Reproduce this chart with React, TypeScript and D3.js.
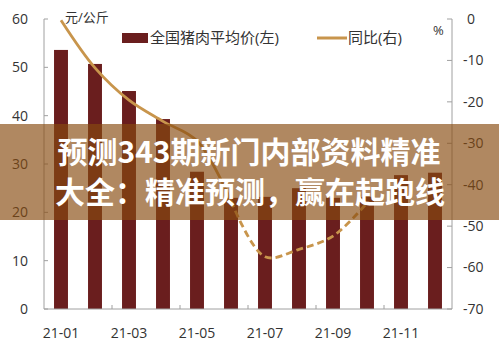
import React from "react";
import * as d3 from "d3";

const months = ["21-01","21-02","21-03","21-04","21-05","21-06","21-07","21-08","21-09","21-10","21-11","21-12"];
const priceValues = [53.6, 50.7, 45.1, 39.3, 28.4, 23.0, 23.2, 25.0, 23.0, 23.2, 27.7, 28.2];
const yoyMonths = ["21-01","21-02","21-03","21-04","21-05","21-06","21-07","21-08","21-09","21-10"];
const yoyValues = [-0.3, -11.8, -19.6, -24.7, -29.4, -43.9, -57.4, -55.6, -52.4, -44.4];
const leftTicks = [0, 10, 20, 30, 40, 50, 60];
const rightTicks = [0, -10, -20, -30, -40, -50, -60, -70];
const xLabelMonths = ["21-01","21-03","21-05","21-07","21-09","21-11"];
const legendBar = "全国猪肉平均价(左)";
const legendLine = "同比(右)";
const leftUnit = "元/公斤";
const rightUnit = "%";
const bannerLine1 = "预测343期新门内部资料精准";
const bannerLine2 = "大全：精准预测，赢在起跑线";

const W = 499, H = 344;
const L = 44, R = 452, T = 19, B = 309;
const FONT = "'Open Sans', 'Noto Sans CJK SC', sans-serif";
const BAR = "#6a1e1e";
const LINE = "#c8954c";
const AXIS = "#a0a0a0";
const TXT = "#333";

export default function App() {
  const x = d3.scaleBand<string>().domain(months).range([L, R]).paddingInner(0.59).paddingOuter(0.295);
  const band = (R - L) / months.length;
  const yL = d3.scaleLinear().domain([0, 60]).range([B, T]);
  const yR = d3.scaleLinear().domain([-70, 0]).range([B, T]);
  const cx = (m: string) => (x(m) as number) + x.bandwidth() / 2;

  const pts: [number, number][] = yoyMonths.map((m, i) => [cx(m), yR(yoyValues[i])]);
  const lineGen = d3.line<[number, number]>().curve(d3.curveCatmullRom.alpha(0.5));
  const solidPts = pts.slice(0, 6);
  const dashedPts = pts.slice(5);

  return (
    <svg width={W} height={H} style={{ position: "absolute", left: 0, top: 0, background: "#fff" }} fontFamily={FONT}>
      <rect x={0} y={0} width={W} height={H} fill="#fff" />
      {months.map((m, i) => (
        <rect key={m} x={x(m)} y={yL(priceValues[i])} width={x.bandwidth()} height={B - yL(priceValues[i])} fill={BAR} />
      ))}
      <path d={lineGen(solidPts) || ""} fill="none" stroke={LINE} strokeWidth={2.8} />
      <path d={lineGen(dashedPts) || ""} fill="none" stroke={LINE} strokeWidth={2.8} strokeDasharray="7,4" />
      <line x1={L} y1={T} x2={L} y2={B} stroke={AXIS} strokeWidth={1} />
      <line x1={R} y1={T} x2={R} y2={B} stroke={AXIS} strokeWidth={1} />
      <line x1={L} y1={B} x2={R} y2={B} stroke={AXIS} strokeWidth={1} />
      {leftTicks.map((t) => (
        <g key={"l" + t}>
          <line x1={L} x2={L + 4} y1={yL(t)} y2={yL(t)} stroke={AXIS} />
          <text x={28} y={yL(t)} dy="0.35em" textAnchor="end" fontSize={14} fill={TXT}>{t}</text>
        </g>
      ))}
      {rightTicks.map((t) => (
        <g key={"r" + t}>
          <line x1={R - 5} x2={R} y1={yR(t)} y2={yR(t)} stroke={AXIS} />
          <text x={t === 0 ? 467 : 463} y={yR(t)} dy="0.35em" textAnchor="start" fontSize={14} fill={TXT}>{t}</text>
        </g>
      ))}
      {months.map((m, i) => (i % 2 === 0 && i > 0 ? (
        <line key={"xt" + m} x1={L + band * i} x2={L + band * i} y1={B - 4} y2={B} stroke={AXIS} />
      ) : null))}
      {xLabelMonths.map((m) => (
        <text key={"xl" + m} x={cx(m)} y={333} dy="0.35em" textAnchor="middle" fontSize={14} fill={TXT}>{m}</text>
      ))}
      <text x={65} y={17} dy="0.35em" fontSize={13} fill={TXT}>{leftUnit}</text>
      <text x={433} y={30} dy="0.35em" fontSize={13} fill={TXT}>{rightUnit}</text>
      <rect x={122} y={33} width={26} height={10} fill={BAR} />
      <text x={150} y={38} dy="0.35em" fontSize={15} fill={TXT}>{legendBar}</text>
      <line x1={317} x2={347} y1={38} y2={38} stroke={LINE} strokeWidth={3} />
      <text x={348} y={38} dy="0.35em" fontSize={15} fill={TXT}>{legendLine}</text>
      <rect x={0} y={124} width={W} height={96} fill="rgb(135,75,15)" fillOpacity={0.66} />
      <text x={249} y={152} dy="0.35em" textAnchor="middle" fontSize={30} fontWeight="bold" fill="#fff" fontFamily="'Noto Sans CJK SC', sans-serif">{bannerLine1}</text>
      <text x={250} y={192} dy="0.35em" textAnchor="middle" fontSize={30} fontWeight="bold" fill="#fff" fontFamily="'Noto Sans CJK SC', sans-serif">{bannerLine2}</text>
    </svg>
  );
}
